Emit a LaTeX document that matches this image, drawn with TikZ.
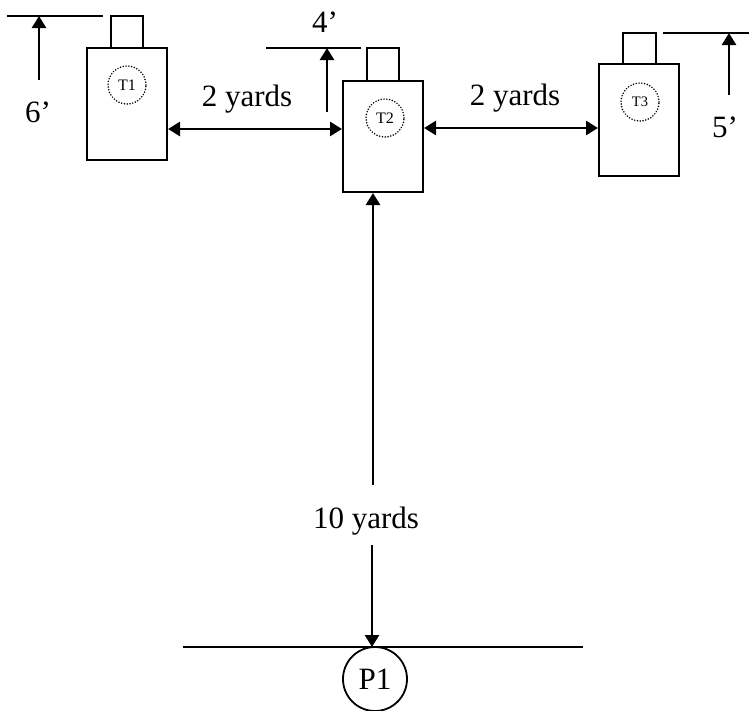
\documentclass[tikz,border=0pt]{standalone}
\usepackage{fontspec}
\setmainfont{Liberation Serif}
\usetikzlibrary{arrows.meta}
\begin{document}
\begin{tikzpicture}[x=1pt,y=-1pt,
  bodybox/.style={draw,line width=2pt,minimum width=80pt,minimum height=112pt,inner sep=0pt},
  headbox/.style={draw,line width=1.8pt,minimum width=32pt,minimum height=32pt,inner sep=0pt},
  tcircle/.style={circle,draw,line width=1.7pt,dash pattern=on 0pt off 2.8pt,line cap=round,minimum size=38pt,inner sep=0pt,font=\fontsize{16}{16}\selectfont},
  refline/.style={line width=1.4pt},
  dimarrow/.style={line width=2.6pt,-{Triangle[length=12pt,width=14pt]}},
  dimarrows/.style={line width=2.6pt,{Triangle[length=12pt,width=14pt]}-{Triangle[length=12pt,width=14pt]}},
  biglabel/.style={anchor=base,inner sep=0pt,font=\fontsize{31}{33}\selectfont}]
\useasboundingbox (0,0) rectangle (749,710);
% T1
\node[bodybox] (t1) at (127,104) {};
\node[headbox] (h1) at (127,32) {};
\node[tcircle] (c1) at (127,85) {T1};
% T2
\node[bodybox,minimum height=111pt] (t2) at (383,136.5) {};
\node[headbox,minimum height=33pt] (h2) at (383,64.5) {};
\node[tcircle] (c2) at (385,118) {T2};
% T3
\node[bodybox] (t3) at (639,120) {};
\node[headbox,minimum height=31pt,minimum width=33pt] (h3) at (639.5,48.5) {};
\node[tcircle,font=\fontsize{14.5}{14.5}\selectfont] (c3) at (640,102) {T3};
% reference lines
\coordinate (l1a) at (7,16);
\coordinate (l1b) at (103,16);
\draw[refline] (l1a) -- (l1b);
\coordinate (l2a) at (266,48);
\coordinate (l2b) at (361,48);
\draw[refline] (l2a) -- (l2b);
\coordinate (l3a) at (663,33);
\coordinate (l3b) at (749,33);
\draw[refline] (l3a) -- (l3b);
% height arrows
\coordinate (a1) at (39,80);
\draw[dimarrow] (a1) -- (39,16);
\coordinate (a2) at (327,112);
\draw[dimarrow] (a2) -- (327,48);
\coordinate (a3) at (729,95);
\draw[dimarrow] (a3) -- (729,33);
\node[biglabel] (lab6) at (38,122) {6’};
\node[biglabel] (lab4) at (325,32) {4’};
\node[biglabel] (lab5) at (725,137) {5’};
% horizontal distances
\draw[dimarrows] (t1.east |- 0,129) -- (t2.west |- 0,129);
\draw[dimarrows] (t2.east |- 0,128) -- (t3.west |- 0,128);
\node[biglabel] (y12) at (247,106) {2 yards};
\node[biglabel] (y23) at (515,105) {2 yards};
% vertical distance
\coordinate (m1) at (373,485);
\coordinate (m2) at (372,545);
\node[biglabel] (y10) at (366,528) {10 yards};
\coordinate (g1) at (183,647);
\coordinate (g2) at (583,647);
\draw[line width=2pt] (g1) -- (g2);
\coordinate (gp) at (372,647);
\draw[dimarrow] (m1) -- (t2.south -| 373,0);
\draw[dimarrow] (m2) -- (gp);
\node[circle,draw,line width=1.8pt,minimum size=64pt,inner sep=0pt,font=\fontsize{31}{33}\selectfont] (p1) at (375,679) {P1};
\end{tikzpicture}
\end{document}
